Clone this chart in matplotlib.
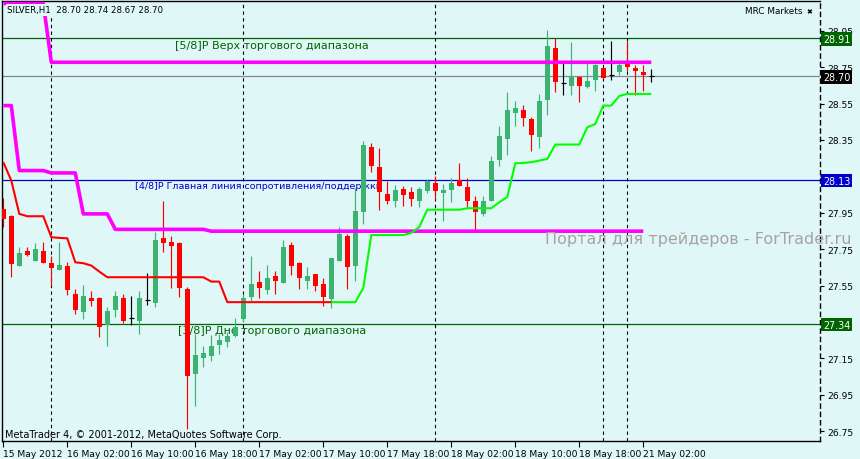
import matplotlib
matplotlib.use('Agg')
import matplotlib.pyplot as plt
from matplotlib.transforms import blended_transform_factory
import numpy as np

# ---------------- data ----------------
open_ = [27.97, 27.93, 27.66, 27.74, 27.687, 27.74, 27.674, 27.638, 27.66, 27.504,
         27.407, 27.482, 27.482, 27.335, 27.418, 27.482, 27.372, 27.357, 27.470, 27.456,
         27.810, 27.792, 27.784, 27.532, 27.065, 27.153, 27.165, 27.224, 27.239, 27.275,
         27.367, 27.489, 27.572, 27.526, 27.605, 27.565, 27.773, 27.674, 27.576, 27.614,
         27.559, 27.477, 27.687, 27.824, 27.660, 27.953, 28.312, 28.200, 28.054, 28.017,
         28.081, 28.066, 28.017, 28.072, 28.114, 28.061, 28.076, 28.129, 28.090, 28.015,
         27.942, 28.017, 28.240, 28.356, 28.499, 28.515, 28.466, 28.368, 28.572, 28.856,
         28.662, 28.649, 28.698, 28.643, 28.682, 28.746, 28.709, 28.722, 28.777, 28.746,
         28.726, 28.700]
high = [28.031, 27.938, 27.761, 27.761, 27.784, 27.791, 27.711, 27.791, 27.678, 27.532,
        27.554, 27.519, 27.488, 27.435, 27.522, 27.502, 27.493, 27.521, 27.620, 27.846,
        28.015, 27.821, 27.792, 27.541, 27.282, 27.220, 27.279, 27.284, 27.295, 27.371,
        27.504, 27.715, 27.632, 27.665, 27.632, 27.803, 27.788, 27.678, 27.654, 27.614,
        27.590, 27.702, 27.871, 27.834, 28.085, 28.346, 28.334, 28.308, 28.127, 28.103,
        28.099, 28.090, 28.094, 28.136, 28.154, 28.109, 28.142, 28.224, 28.140, 28.044,
        28.044, 28.264, 28.429, 28.616, 28.566, 28.543, 28.478, 28.603, 28.955, 28.909,
        28.783, 28.887, 28.698, 28.773, 28.768, 28.751, 28.896, 28.772, 28.896, 28.762,
        28.762, 28.740]
low = [27.872, 27.599, 27.655, 27.715, 27.685, 27.675, 27.550, 27.636, 27.499, 27.394,
       27.367, 27.440, 27.270, 27.217, 27.379, 27.345, 27.335, 27.284, 27.445, 27.431,
       27.737, 27.537, 27.489, 26.762, 26.886, 27.101, 27.134, 27.175, 27.211, 27.270,
       27.349, 27.467, 27.481, 27.504, 27.504, 27.562, 27.609, 27.532, 27.532, 27.522,
       27.440, 27.427, 27.685, 27.532, 27.577, 27.889, 28.173, 27.967, 27.999, 27.980,
       27.989, 27.989, 27.980, 28.059, 28.026, 27.907, 28.011, 28.095, 27.980, 27.843,
       27.934, 28.015, 28.209, 28.270, 28.429, 28.429, 28.292, 28.305, 28.489, 28.616,
       28.599, 28.599, 28.561, 28.634, 28.621, 28.685, 28.682, 28.707, 28.731, 28.599,
       28.621, 28.670]
close = [27.916, 27.669, 27.729, 27.720, 27.751, 27.676, 27.649, 27.663, 27.528, 27.418,
         27.493, 27.467, 27.324, 27.411, 27.493, 27.357, 27.372, 27.482, 27.470, 27.801,
         27.783, 27.770, 27.537, 27.055, 27.169, 27.180, 27.217, 27.253, 27.275, 27.321,
         27.481, 27.559, 27.539, 27.594, 27.577, 27.764, 27.660, 27.590, 27.605, 27.550,
         27.489, 27.702, 27.834, 27.651, 27.960, 28.324, 28.209, 28.063, 28.013, 28.074,
         28.050, 28.026, 28.081, 28.127, 28.072, 28.076, 28.114, 28.099, 28.017, 27.953,
         28.015, 28.233, 28.374, 28.515, 28.526, 28.473, 28.379, 28.566, 28.868, 28.671,
         28.662, 28.700, 28.649, 28.674, 28.762, 28.691, 28.709, 28.762, 28.753, 28.731,
         28.709, 28.700]

# channel (magenta) lines
upper_start = 0
upper_band = [29.10] * 6 + [28.777] * 76
lower_start = 0
lower_band = ([28.539] * 2 + [28.182] * 4 + [28.169] * 4 + [27.944] * 4
              + [27.859] * 12 + [27.849] * 55)
# trailing stop (red = down, green = up)
red_start = 0
red_stop = [28.228, 28.127, 27.944, 27.931, 27.931, 27.931, 27.816, 27.812, 27.810, 27.678,
            27.673, 27.660, 27.627] + [27.596] * 13 + [27.572] * 2 + [27.459] * 14
green_start = 41
green_stop = ([27.459] * 4 + [27.537] + [27.828] * 5 + [27.839, 27.872]
              + [27.967] * 5 + [27.975] * 4 + [28.008, 28.037, 28.222, 28.224, 28.228,
              28.237, 28.246] + [28.325] * 4 + [28.420, 28.438, 28.539, 28.539, 28.592]
              + [28.603] * 4)

# level lines
levels = [28.91, 28.13, 27.34]
level_names = ["[5/8]P Верх торгового диапазона",
               "[4/8]P Главная линия сопротивления/поддержки",
               "[3/8]P Дно торгового диапазона"]
bid = 28.70

separators = [6, 30, 54, 75, 78]
xtick_pos = [0, 8, 16, 24, 32, 40, 48, 56, 64, 72, 80]
xtick_labels = ["15 May 2012", "16 May 02:00", "16 May 10:00", "16 May 18:00",
                "17 May 02:00", "17 May 10:00", "17 May 18:00", "18 May 02:00",
                "18 May 10:00", "18 May 18:00", "21 May 02:00"]
ytick_vals = [28.95, 28.75, 28.55, 28.35, 28.15, 27.95, 27.75, 27.55, 27.35,
              27.15, 26.95, 26.75]
hidden_ticks = [28.15, 27.35]   # covered by the price boxes

# ---------------- style ----------------
W, H = 860, 460
BG = '#e0f7f7'
UPC = '#3cb371'
DNC = '#ff0000'
DKG = '#006400'
BLU = '#0000cd'
MAG = '#ff00ff'
LIME = '#00ff00'
FS = 6.6

fig = plt.figure(figsize=(W / 100, H / 100), dpi=100, facecolor=BG)
L, R, T, B = 2, 820, 2, 442
ax = fig.add_axes([L / W, 1 - B / H, (R - L) / W, (B - T) / H])
ax.set_facecolor(BG)
ax.set_xlim((L - 3.3) / 8, (R - 3.3) / 8)
ax.set_ylim(26.6961, 29.1137)

o = np.array(open_); h = np.array(high); lo = np.array(low); c = np.array(close)
idx = np.arange(len(o))
up = c > o
dn = c < o
dj = c == o

# level lines
lev_colors = [DKG, BLU, DKG]
for lv, col in zip(levels, lev_colors):
    ax.axhline(lv, color=col, lw=0.9, zorder=1)
ax.axhline(bid, color='#7f8890', lw=0.9, zorder=1)

for s in separators:
    ax.axvline(s, color='black', lw=0.8, ls=(0, (3, 3)), zorder=1)


def ftxt(x, y, s, target=None, **kw):
    kw.setdefault('va', 'center')
    kw.setdefault('ha', 'left')
    if target is None:
        return fig.text(x / W, 1 - y / H, s, **kw)
    return target.text(x / W, 1 - y / H, s, transform=fig.transFigure, **kw)


# level labels (under the candles)
ftxt(175, 46, level_names[0], target=ax, color=DKG, fontsize=8.0, zorder=1.5)
ftxt(135, 187, level_names[1], target=ax, color=BLU, fontsize=6.8, zorder=1.5)
ftxt(178, 331, level_names[2], target=ax, color=DKG, fontsize=8.0, zorder=1.5)

# candles
bw = 0.62
ax.vlines(idx[up], lo[up], h[up], color=UPC, lw=0.85, zorder=2)
ax.vlines(idx[dn], lo[dn], h[dn], color=DNC, lw=0.85, zorder=2)
ax.vlines(idx[dj], lo[dj], h[dj], color='black', lw=0.85, zorder=2)
ax.bar(idx[up], c[up] - o[up], bottom=o[up], width=bw, color=UPC, linewidth=0, zorder=3)
ax.bar(idx[dn], o[dn] - c[dn], bottom=c[dn], width=bw, color=DNC, linewidth=0, zorder=3)
ax.hlines(c[dj], idx[dj] - bw / 2, idx[dj] + bw / 2, color='black', lw=0.85, zorder=3)

# indicator lines
ax.plot(np.arange(upper_start, upper_start + len(upper_band)), upper_band,
        color=MAG, lw=2.6, zorder=4, solid_capstyle='butt')
ax.plot(np.arange(lower_start, lower_start + len(lower_band)), lower_band,
        color=MAG, lw=2.6, zorder=4, solid_capstyle='butt')
ax.plot(np.arange(red_start, red_start + len(red_stop)), red_stop,
        color=DNC, lw=1.5, zorder=4, solid_capstyle='butt')
ax.plot(np.arange(green_start, green_start + len(green_stop)), green_stop,
        color=LIME, lw=1.5, zorder=4, solid_capstyle='butt')

# axes styling
for sp in ax.spines.values():
    sp.set_color('black')
    sp.set_linewidth(1.0)
ax.spines['right'].set_linestyle((0, (3, 3)))
ax.yaxis.tick_right()
ax.set_yticks(ytick_vals)
ax.set_yticklabels(["" if v in hidden_ticks else f"{v:.2f}" for v in ytick_vals])
ax.tick_params(axis='y', length=3, width=0.8, direction='out', pad=2,
               labelsize=FS, colors='black')
ax.set_xticks(xtick_pos)
ax.set_xticklabels(xtick_labels)
ax.tick_params(axis='x', length=4, width=0.8, direction='out', pad=1.5,
               labelsize=FS, colors='black')
for lab in ax.get_xticklabels():
    lab.set_ha('left')

# price boxes on the right scale
tr = blended_transform_factory(ax.transAxes, ax.transData)
box_vals = [28.91, bid, 28.13, 27.34]
box_cols = [DKG, 'black', BLU, DKG]
for v, col in zip(box_vals, box_cols):
    ax.text(1.0035, v - 0.004, f"{v:.2f}", transform=tr, va='center', ha='left',
            color='white', fontsize=FS + 0.3, clip_on=False, zorder=10,
            bbox=dict(boxstyle='square,pad=0.18', fc=col, ec='none'))

ftxt(7, 11, "SILVER,H1  28.70 28.74 28.67 28.70", color='black', fontsize=6.2,
     bbox=dict(boxstyle='square,pad=0.15', fc=BG, ec='none'))
ftxt(745, 12, "MRC Markets", color='black', fontsize=6.4)
ftxt(806, 12, "✖", color='black', fontsize=5)
ftxt(5, 435, "MetaTrader 4, © 2001-2012, MetaQuotes Software Corp.", color='black',
     fontsize=FS + 0.4)
ftxt(545, 240, "Портал для трейдеров - ForTrader.ru", color='#aaa2a2', fontsize=11.5)

fig.savefig('out.png', dpi=100, facecolor=BG)
